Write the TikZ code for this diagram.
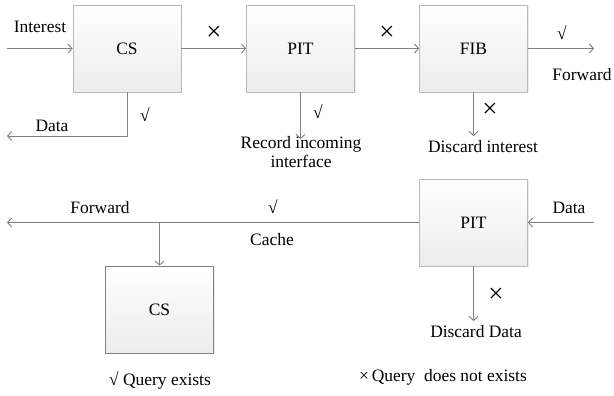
\documentclass[tikz,border=0pt]{standalone}
\usepackage{fontspec}
\setmainfont{Liberation Serif}
\usetikzlibrary{arrows.meta,shadows}

\begin{document}
\begin{tikzpicture}[
    x=1bp, y=-1bp,
    font=\fontsize{17.5}{20}\selectfont,
    >={Straight Barb[length=4bp,width=9bp]},
    line join=round,
    flow/.style={draw=linegray, line width=0.9bp},
    tablebox/.style={draw=boxgray, line width=0.8bp, top color=white, bottom color=boxfill,
        minimum width=108bp, minimum height=87bp, inner sep=0pt,
        drop shadow={shadow xshift=1bp, shadow yshift=-1bp, opacity=0.15}},
    mark label/.style={inner sep=1bp},
    cross label/.style={inner sep=0pt, font=\fontsize{27}{27}\selectfont}
]

% ========= Colors =========
\definecolor{linegray}{RGB}{128,128,128}
\definecolor{boxgray}{RGB}{185,185,185}
\definecolor{boxdark}{RGB}{130,130,130}
\definecolor{boxfill}{RGB}{236,236,236}

\useasboundingbox (0,0) rectangle (614,395);

% ========= Interest path =========
\node[tablebox] (csI) at (127,48.5) {CS};
\node[tablebox] (pitI) at (300.5,48.5) {PIT};
\node[tablebox] (fib) at (473.5,48.5) {FIB};

\coordinate (interestIn) at (7,48.5);
\coordinate (forwardOut) at (594,48.5);
\coordinate (dataBack) at (7,136);
\coordinate (recordEnd) at (300.5,139);
\coordinate (discardEnd) at (473.5,136);

\draw[flow,->] (interestIn) -- (csI);
\draw[flow,->] (csI) -- (pitI);
\draw[flow,->] (pitI) -- (fib);
\draw[flow,->] (fib) -- (forwardOut);
\draw[flow,->] (csI.south) |- (dataBack);
\draw[flow,->] (pitI.south) -- (recordEnd);
\draw[flow,->] (fib.south) -- (discardEnd);

\node (interestLab) at (40,27) {Interest};
\node[cross label] (noCs) at (214,33) {×};
\node[cross label] (noPit) at (387,33) {×};
\node[mark label] (yesFib) at (562,33) {√};
\node (forwardLab) at (582,75) {Forward};
\node[mark label] (yesCs) at (145,115) {√};
\node (dataLab) at (52,126) {Data};
\node[mark label] (yesPit) at (318,112) {√};
\node[align=center, inner sep=0pt] (recordLab) at (301,152) {Record incoming\\interface};
\node[cross label] (noFib) at (490,110) {×};
\node (discardLab) at (483,147) {Discard interest};

% ========= Data path =========
\node[tablebox] (pitD) at (473.5,222.5) {PIT};
\node[tablebox, draw=boxdark] (csD) at (159.5,309.5) {CS};

\coordinate (dataIn) at (594,222.5);
\coordinate (dataOut) at (7,222.5);
\coordinate (cacheFork) at (159.5,222.5);
\coordinate (dropEnd) at (473.5,321);

\draw[flow,->] (dataIn) -- (pitD);
\draw[flow,->] (pitD) -- (dataOut);
\draw[flow,->] (cacheFork) -- (csD);
\draw[flow,->] (pitD.south) -- (dropEnd);

\node (dataInLab) at (569,208) {Data};
\node (forwardDLab) at (100,208) {Forward};
\node[mark label] (yesPitD) at (273,207) {√};
\node (cacheLab) at (272,240) {Cache};
\node[cross label] (noPitD) at (496,295) {×};
\node (dropLab) at (476,332) {Discard Data};

% ========= Legend =========
\node (legendYes) at (160,380) {√ Query exists};
\node (legendNo) at (443,377) {×\,Query\ \ does not exists};

\end{tikzpicture}
\end{document}
